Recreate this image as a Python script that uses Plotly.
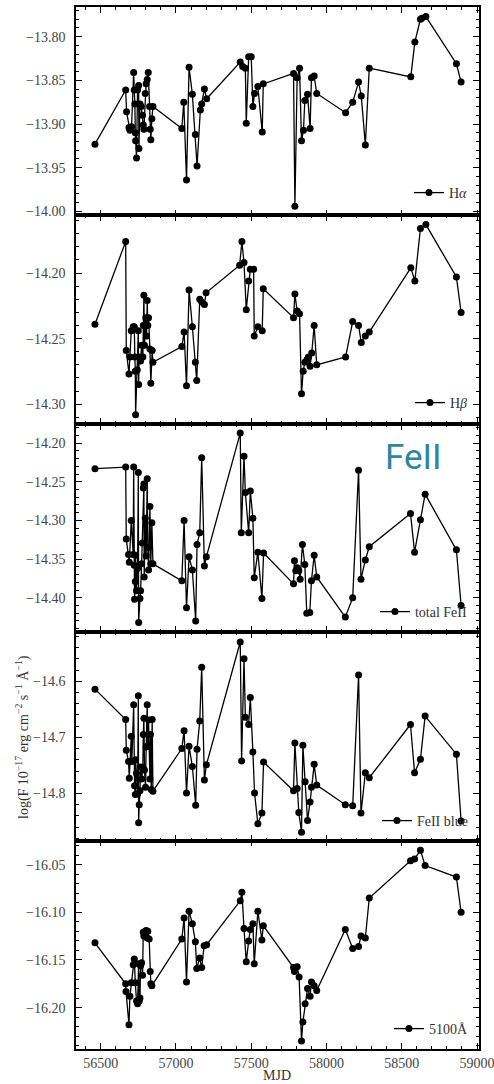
import plotly.graph_objects as go
from plotly.subplots import make_subplots

# ---------------- data ----------------
mjd_ha = [56462, 56666, 56672, 56688, 56694, 56705, 56719, 56723, 56727, 56730, 56732, 56738,
          56745, 56752, 56754, 56761, 56769, 56778, 56783, 56787, 56796, 56802, 56809, 56816,
          56825, 56829, 56833, 56840, 56847, 57039, 57052, 57070, 57087, 57109, 57129, 57140,
          57162, 57171, 57189, 57204, 57427, 57443, 57461, 57467, 57483, 57500, 57511, 57522,
          57544, 57573, 57580, 57781, 57790, 57805, 57821, 57834, 57847, 57856, 57874, 57891,
          57900, 57918, 57935, 58127, 58174, 58213, 58231, 58258, 58284, 58560, 58587, 58624,
          58633, 58660, 58863, 58894]
ha = [-13.923, -13.861, -13.886, -13.904, -13.907, -13.903, -13.841, -13.861, -13.877, -13.910,
      -13.919, -13.939, -13.861, -13.856, -13.928, -13.877, -13.880, -13.890, -13.901, -13.906,
      -13.865, -13.854, -13.849, -13.841, -13.880, -13.906, -13.918, -13.894, -13.880, -13.905,
      -13.875, -13.964, -13.835, -13.866, -13.912, -13.948, -13.884, -13.877, -13.860, -13.871,
      -13.829, -13.834, -13.836, -13.899, -13.823, -13.823, -13.880, -13.865, -13.857, -13.909,
      -13.854, -13.842, -13.994, -13.847, -13.836, -13.919, -13.907, -13.873, -13.866, -13.905,
      -13.847, -13.845, -13.865, -13.887, -13.875, -13.852, -13.868, -13.924, -13.836, -13.846,
      -13.806, -13.780, -13.779, -13.777, -13.831, -13.852]

mjd_hb = [56462, 56666, 56670, 56688, 56694, 56703, 56716, 56723, 56727, 56730, 56732, 56743,
          56750, 56752, 56756, 56765, 56772, 56780, 56783, 56787, 56791, 56800, 56805, 56809,
          56813, 56818, 56827, 56833, 56842, 56847, 57039, 57054, 57070, 57087, 57109, 57129,
          57138, 57158, 57171, 57189, 57200, 57423, 57438, 57452, 57467, 57483, 57494, 57516,
          57520, 57544, 57573, 57580, 57781, 57790, 57805, 57821, 57834, 57845, 57856, 57871,
          57880, 57891, 57902, 57918, 57935, 58127, 58174, 58213, 58231, 58258, 58284, 58560,
          58587, 58624, 58660, 58863, 58894]
hb = [-14.239, -14.176, -14.259, -14.277, -14.264, -14.244, -14.241, -14.241, -14.264, -14.275,
      -14.308, -14.274, -14.244, -14.285, -14.264, -14.267, -14.255, -14.264, -14.240, -14.217,
      -14.255, -14.234, -14.248, -14.221, -14.240, -14.234, -14.258, -14.284, -14.259, -14.268,
      -14.256, -14.245, -14.286, -14.213, -14.241, -14.268, -14.282, -14.220, -14.222, -14.224,
      -14.215, -14.194, -14.176, -14.192, -14.228, -14.206, -14.197, -14.197, -14.248, -14.241,
      -14.244, -14.212, -14.234, -14.216, -14.229, -14.231, -14.292, -14.275, -14.268, -14.266,
      -14.264, -14.271, -14.261, -14.240, -14.270, -14.264, -14.237, -14.240, -14.253, -14.248,
      -14.245, -14.196, -14.206, -14.166, -14.163, -14.203, -14.230]

mjd_fe = [56462, 56666, 56670, 56685, 56690, 56703, 56716, 56719, 56723, 56725, 56730, 56732,
          56738, 56745, 56750, 56752, 56761, 56765, 56772, 56776, 56783, 56787, 56789, 56796,
          56802, 56809, 56813, 56818, 56827, 56833, 56840, 56847, 57039, 57054, 57070, 57087,
          57109, 57131, 57140, 57158, 57171, 57189, 57202, 57427, 57434, 57452, 57461, 57483,
          57494, 57511, 57520, 57544, 57571, 57582, 57781, 57787, 57796, 57805, 57816, 57825,
          57840, 57856, 57869, 57889, 57900, 57918, 57935, 58125, 58174, 58213, 58229, 58258,
          58284, 58558, 58585, 58624, 58655, 58863, 58894]
fe_tot = [-14.233, -14.231, -14.324, -14.344, -14.354, -14.300, -14.344, -14.231, -14.358, -14.402,
          -14.379, -14.345, -14.391, -14.362, -14.238, -14.432, -14.401, -14.391, -14.356, -14.329,
          -14.258, -14.253, -14.373, -14.297, -14.346, -14.246, -14.335, -14.364, -14.282, -14.356,
          -14.303, -14.356, -14.378, -14.300, -14.413, -14.347, -14.364, -14.430, -14.331, -14.316,
          -14.219, -14.359, -14.347, -14.187, -14.316, -14.217, -14.264, -14.316, -14.262, -14.297,
          -14.374, -14.341, -14.401, -14.342, -14.382, -14.352, -14.365, -14.361, -14.365, -14.376,
          -14.331, -14.357, -14.420, -14.419, -14.378, -14.345, -14.373, -14.425, -14.400, -14.235,
          -14.376, -14.351, -14.334, -14.291, -14.341, -14.299, -14.266, -14.338, -14.410]

mjd_fb = [56462, 56666, 56670, 56685, 56690, 56703, 56707, 56719, 56725, 56730, 56732, 56738,
          56745, 56750, 56752, 56756, 56761, 56765, 56772, 56780, 56783, 56787, 56791, 56798,
          56802, 56809, 56813, 56818, 56827, 56831, 56836, 56842, 56847, 57039, 57054, 57070,
          57087, 57109, 57131, 57140, 57158, 57171, 57189, 57202, 57427, 57436, 57452, 57461,
          57483, 57494, 57511, 57522, 57544, 57571, 57582, 57781, 57790, 57805, 57816, 57834,
          57843, 57858, 57874, 57891, 57900, 57918, 57935, 58125, 58174, 58213, 58229, 58258,
          58284, 58558, 58585, 58624, 58655, 58863, 58894]
fe_blue = [-14.614, -14.668, -14.723, -14.743, -14.773, -14.698, -14.743, -14.642, -14.786, -14.802,
           -14.740, -14.764, -14.801, -14.626, -14.852, -14.820, -14.795, -14.753, -14.774, -14.754,
           -14.695, -14.666, -14.758, -14.789, -14.717, -14.642, -14.716, -14.669, -14.774, -14.695,
           -14.793, -14.668, -14.796, -14.720, -14.688, -14.799, -14.716, -14.752, -14.821, -14.721,
           -14.671, -14.575, -14.776, -14.749, -14.530, -14.742, -14.560, -14.664, -14.677, -14.629,
           -14.726, -14.799, -14.854, -14.835, -14.744, -14.795, -14.710, -14.791, -14.834, -14.869,
           -14.714, -14.779, -14.848, -14.815, -14.789, -14.748, -14.785, -14.820, -14.822, -14.589,
           -14.835, -14.763, -14.772, -14.677, -14.763, -14.739, -14.662, -14.730, -14.849]

mjd_c = [56462, 56666, 56668, 56688, 56694, 56703, 56716, 56723, 56730, 56738, 56745, 56752,
         56756, 56761, 56765, 56772, 56778, 56783, 56787, 56796, 56802, 56809, 56813, 56822,
         56829, 56833, 56840, 57039, 57054, 57070, 57087, 57109, 57129, 57138, 57158, 57171,
         57187, 57204, 57427, 57438, 57452, 57467, 57483, 57494, 57511, 57520, 57544, 57571,
         57580, 57781, 57787, 57805, 57818, 57834, 57843, 57858, 57874, 57891, 57900, 57918,
         57935, 58125, 58174, 58213, 58229, 58258, 58284, 58558, 58585, 58624, 58655, 58863,
         58894]
cont = [-16.132, -16.175, -16.183, -16.218, -16.188, -16.174, -16.155, -16.149, -16.174, -16.193,
        -16.196, -16.154, -16.193, -16.190, -16.156, -16.153, -16.166, -16.121, -16.125, -16.120,
        -16.119, -16.127, -16.120, -16.128, -16.162, -16.175, -16.177, -16.128, -16.106, -16.173,
        -16.099, -16.112, -16.131, -16.159, -16.148, -16.158, -16.135, -16.134, -16.088, -16.079,
        -16.117, -16.152, -16.130, -16.118, -16.112, -16.154, -16.099, -16.129, -16.114, -16.158,
        -16.162, -16.157, -16.168, -16.235, -16.215, -16.196, -16.180, -16.188, -16.173, -16.177,
        -16.182, -16.118, -16.138, -16.136, -16.125, -16.127, -16.085, -16.046, -16.044, -16.035,
        -16.051, -16.063, -16.100]

labels = ["H<i>α</i>", "H<i>β</i>", "total FeII", "FeII blue", "5100Å"]
series = [(mjd_ha, ha), (mjd_hb, hb), (mjd_fe, fe_tot), (mjd_fb, fe_blue), (mjd_c, cont)]
y_ranges = [[-14.0046, -13.766], [-14.315, -14.156], [-14.4445, -14.175],
            [-14.884, -14.5125], [-16.2434, -16.0248]]
y_dtick = [0.05, 0.05, 0.05, 0.1, 0.05]
y_minor = [0.01, 0.01, 0.01, 0.02, 0.01]
legend_y = [193, 403, 612, 821, 1029]  # label centre in px
x_range = [56336, 59013]

# ---------------- figure ----------------
W, H = 494, 1084
ML, MR, MT, MB = 76, 15, 7, 35
PH = H - MT - MB
PW = W - ML - MR

fig = make_subplots(rows=5, cols=1, shared_xaxes=True, vertical_spacing=0)

serif = "Liberation Serif, DejaVu Serif, serif"
for i, ((x, y), lab) in enumerate(zip(series, labels)):
    lname = "legend" if i == 0 else f"legend{i+1}"
    fig.add_trace(go.Scatter(
        x=x, y=y, mode="lines+markers", name=lab,
        line=dict(color="black", width=1.3),
        marker=dict(color="black", size=7, symbol="circle"),
        legend=lname, showlegend=True), row=i + 1, col=1)
    fig.update_layout({lname: dict(
        x=0.985, xanchor="right", y=(H - MB - legend_y[i]) / PH, yanchor="middle",
        bgcolor="rgba(0,0,0,0)", borderwidth=0,
        font=dict(family=serif, size=14, color="#333"),
        itemwidth=30, tracegroupgap=0)})

axis_common = dict(showline=True, linecolor="black", linewidth=1.6, mirror="allticks",
                   ticks="inside", ticklen=6, tickwidth=1.1, tickcolor="black",
                   showgrid=False, zeroline=False, automargin=False,
                   tickfont=dict(family=serif, size=14, color="#444"))

for i in range(5):
    fig.update_yaxes(range=y_ranges[i], dtick=y_dtick[i], tick0=0,
                     tickformat=".2f" if y_dtick[i] < 0.1 else ".1f",
                     minor=dict(ticks="inside", ticklen=3, dtick=y_minor[i], tickcolor="black",
                                tickwidth=1, showgrid=False),
                     ticklabelstandoff=6,
                     **axis_common, row=i + 1, col=1)
    fig.update_xaxes(range=x_range, dtick=500, tick0=0, tickformat="d",
                     minor=dict(ticks="inside", ticklen=3, dtick=100, tickcolor="black",
                                tickwidth=1, showgrid=False),
                     **axis_common, row=i + 1, col=1)

fig.update_xaxes(ticklabelstandoff=0, ticklabeloverflow="allow", row=5, col=1)

# axis titles as annotations for precise placement
fig.add_annotation(text="MJD", xref="paper", yref="paper",
                   x=(277 - ML) / PW, y=(H - MB - 1075) / PH,
                   xanchor="center", yanchor="middle", showarrow=False,
                   font=dict(family=serif, size=14, color="#333"))
fig.add_annotation(
    text="log(F 10<sup>−17</sup> erg cm<sup>−2</sup> s<sup>−1</sup> Å<sup>−1</sup>)",
    xref="paper", yref="paper", x=(22 - ML) / PW, y=(H - MB - 737) / PH,
    xanchor="center", yanchor="middle", textangle=-90, showarrow=False,
    font=dict(family=serif, size=14, color="#333"))

fig.add_annotation(text="FeII", xref="paper", yref="paper",
                   x=(413 - ML) / PW, y=(H - MB - 457) / PH,
                   xanchor="center", yanchor="middle", showarrow=False,
                   font=dict(family="Roboto", size=35, color="#2e86a2"))

fig.update_layout(width=W, height=H, margin=dict(l=ML, r=MR, t=MT, b=MB, autoexpand=False),
                  plot_bgcolor="white", paper_bgcolor="white")

fig.write_html("out.html")
